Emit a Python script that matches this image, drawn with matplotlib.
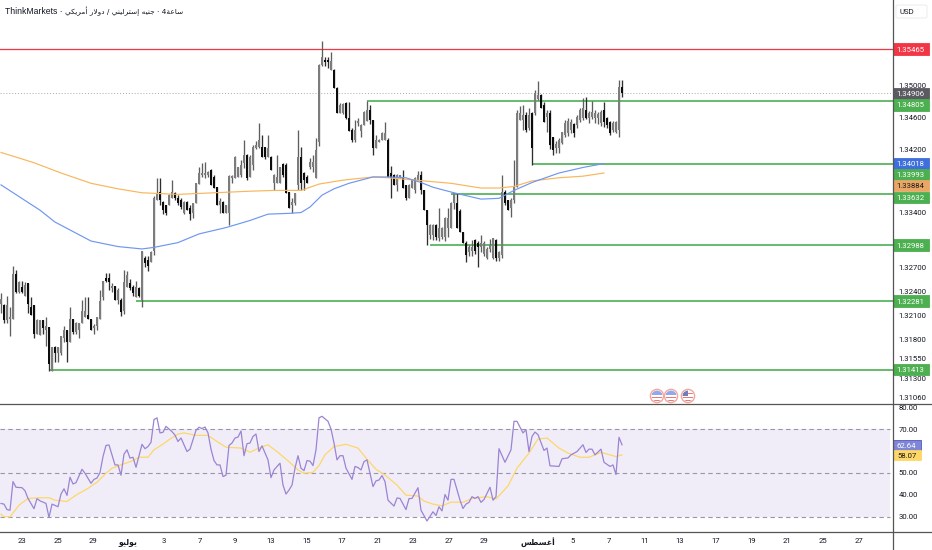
import matplotlib
matplotlib.use("Agg")
import matplotlib.pyplot as plt
import numpy as np
from matplotlib.lines import Line2D
from matplotlib.patches import Rectangle, Circle, FancyBboxPatch

# 4h candles
opens = [
    1.3225, 1.3223, 1.3204, 1.3205, 1.3205, 1.3262, 1.3240, 1.3246, 1.3235, 1.3251,
    1.3220, 1.3223, 1.3187, 1.3185, 1.3204, 1.3191, 1.3195, 1.3140, 1.3170, 1.3162,
    1.3162, 1.3181, 1.3191, 1.3176, 1.3206, 1.3189, 1.3191, 1.3200, 1.3208, 1.3210,
    1.3205, 1.3194, 1.3197, 1.3205, 1.3233, 1.3257, 1.3257, 1.3244, 1.3247, 1.3229,
    1.3230, 1.3216, 1.3246, 1.3251, 1.3246, 1.3233, 1.3244, 1.3229, 1.3282, 1.3280,
    1.3277, 1.3292, 1.3356, 1.3366, 1.3353, 1.3349, 1.3349, 1.3359, 1.3365, 1.3358,
    1.3356, 1.3340, 1.3353, 1.3346, 1.3339, 1.3352, 1.3376, 1.3387, 1.3387, 1.3387,
    1.3394, 1.3385, 1.3372, 1.3349, 1.3353, 1.3339, 1.3340, 1.3384, 1.3384, 1.3385,
    1.3387, 1.3403, 1.3413, 1.3385, 1.3400, 1.3422, 1.3423, 1.3423, 1.3423, 1.3410,
    1.3410, 1.3377, 1.3377, 1.3378, 1.3401, 1.3400, 1.3366, 1.3349, 1.3352, 1.3375,
    1.3410, 1.3390, 1.3385, 1.3397, 1.3397, 1.3384, 1.3429, 1.3527, 1.3533, 1.3533,
    1.3520, 1.3520, 1.3497, 1.3466, 1.3466, 1.3478, 1.3459, 1.3444, 1.3432, 1.3453,
    1.3443, 1.3451, 1.3456, 1.3470, 1.3457, 1.3422, 1.3429, 1.3432, 1.3432, 1.3432,
    1.3390, 1.3387, 1.3375, 1.3384, 1.3385, 1.3375, 1.3359, 1.3371, 1.3368, 1.3381,
    1.3387, 1.3368, 1.3343, 1.3311, 1.3311, 1.3324, 1.3308, 1.3309, 1.3309, 1.3321,
    1.3321, 1.3352, 1.3352, 1.3342, 1.3315, 1.3302, 1.3290, 1.3292, 1.3305, 1.3301,
    1.3296, 1.3288, 1.3283, 1.3294, 1.3283, 1.3305, 1.3283, 1.3286, 1.3366, 1.3356,
    1.3346, 1.3356, 1.3372, 1.3457, 1.3457, 1.3463, 1.3447, 1.3466, 1.3466, 1.3484,
    1.3489, 1.3476, 1.3461, 1.3466, 1.3435, 1.3422, 1.3422, 1.3428, 1.3438, 1.3440,
    1.3444, 1.3452, 1.3451, 1.3457, 1.3459, 1.3470, 1.3459, 1.3461, 1.3459, 1.3459,
    1.3453, 1.3470, 1.3459, 1.3454, 1.3444, 1.3442, 1.3444, 1.3499,
]
closes = [
    1.3231, 1.3204, 1.3223, 1.3208, 1.3262, 1.3239, 1.3252, 1.3240, 1.3249, 1.3225,
    1.3210, 1.3186, 1.3204, 1.3204, 1.3194, 1.3197, 1.3149, 1.3170, 1.3163, 1.3170,
    1.3184, 1.3191, 1.3176, 1.3206, 1.3189, 1.3200, 1.3201, 1.3216, 1.3216, 1.3205,
    1.3192, 1.3197, 1.3208, 1.3228, 1.3253, 1.3253, 1.3252, 1.3247, 1.3229, 1.3242,
    1.3214, 1.3252, 1.3261, 1.3244, 1.3238, 1.3246, 1.3235, 1.3292, 1.3276, 1.3273,
    1.3290, 1.3358, 1.3365, 1.3356, 1.3343, 1.3340, 1.3362, 1.3366, 1.3358, 1.3352,
    1.3347, 1.3353, 1.3343, 1.3338, 1.3352, 1.3377, 1.3390, 1.3390, 1.3390, 1.3391,
    1.3375, 1.3371, 1.3349, 1.3354, 1.3339, 1.3349, 1.3386, 1.3386, 1.3410, 1.3397,
    1.3400, 1.3413, 1.3384, 1.3410, 1.3423, 1.3425, 1.3432, 1.3410, 1.3410, 1.3422,
    1.3394, 1.3387, 1.3385, 1.3397, 1.3387, 1.3365, 1.3346, 1.3353, 1.3365, 1.3410,
    1.3377, 1.3381, 1.3378, 1.3404, 1.3404, 1.3419, 1.3527, 1.3537, 1.3530, 1.3530,
    1.3532, 1.3497, 1.3466, 1.3476, 1.3477, 1.3459, 1.3443, 1.3432, 1.3444, 1.3456,
    1.3451, 1.3467, 1.3470, 1.3457, 1.3422, 1.3432, 1.3432, 1.3440, 1.3440, 1.3385,
    1.3384, 1.3375, 1.3387, 1.3387, 1.3371, 1.3359, 1.3375, 1.3381, 1.3384, 1.3387,
    1.3368, 1.3343, 1.3324, 1.3324, 1.3324, 1.3309, 1.3321, 1.3321, 1.3333, 1.3333,
    1.3352, 1.3365, 1.3321, 1.3315, 1.3301, 1.3286, 1.3296, 1.3296, 1.3292, 1.3296,
    1.3301, 1.3302, 1.3294, 1.3299, 1.3308, 1.3283, 1.3290, 1.3366, 1.3352, 1.3343,
    1.3356, 1.3372, 1.3466, 1.3466, 1.3463, 1.3444, 1.3463, 1.3422, 1.3491, 1.3489,
    1.3472, 1.3454, 1.3466, 1.3425, 1.3419, 1.3427, 1.3432, 1.3442, 1.3453, 1.3456,
    1.3454, 1.3440, 1.3461, 1.3470, 1.3472, 1.3459, 1.3466, 1.3467, 1.3466, 1.3464,
    1.3467, 1.3454, 1.3451, 1.3440, 1.3453, 1.3454, 1.3499, 1.3491,
]
highs = [
    1.3238, 1.3225, 1.3235, 1.3220, 1.3273, 1.3268, 1.3254, 1.3254, 1.3252, 1.3251,
    1.3233, 1.3223, 1.3205, 1.3204, 1.3204, 1.3208, 1.3195, 1.3170, 1.3171, 1.3170,
    1.3184, 1.3197, 1.3191, 1.3220, 1.3206, 1.3202, 1.3201, 1.3229, 1.3233, 1.3233,
    1.3205, 1.3199, 1.3208, 1.3242, 1.3253, 1.3263, 1.3263, 1.3251, 1.3247, 1.3244,
    1.3232, 1.3267, 1.3266, 1.3256, 1.3248, 1.3254, 1.3246, 1.3292, 1.3285, 1.3285,
    1.3291, 1.3361, 1.3384, 1.3384, 1.3354, 1.3349, 1.3364, 1.3381, 1.3366, 1.3362,
    1.3358, 1.3354, 1.3354, 1.3349, 1.3352, 1.3377, 1.3397, 1.3403, 1.3404, 1.3392,
    1.3395, 1.3387, 1.3372, 1.3358, 1.3354, 1.3349, 1.3387, 1.3387, 1.3411, 1.3398,
    1.3406, 1.3432, 1.3414, 1.3413, 1.3425, 1.3430, 1.3453, 1.3438, 1.3423, 1.3438,
    1.3411, 1.3389, 1.3413, 1.3398, 1.3403, 1.3403, 1.3366, 1.3358, 1.3365, 1.3444,
    1.3423, 1.3391, 1.3387, 1.3409, 1.3413, 1.3434, 1.3528, 1.3557, 1.3537, 1.3537,
    1.3543, 1.3522, 1.3499, 1.3479, 1.3478, 1.3480, 1.3480, 1.3447, 1.3457, 1.3459,
    1.3452, 1.3468, 1.3481, 1.3476, 1.3457, 1.3438, 1.3433, 1.3442, 1.3454, 1.3434,
    1.3399, 1.3389, 1.3389, 1.3387, 1.3394, 1.3375, 1.3376, 1.3383, 1.3385, 1.3392,
    1.3392, 1.3368, 1.3343, 1.3325, 1.3326, 1.3326, 1.3346, 1.3322, 1.3334, 1.3346,
    1.3353, 1.3365, 1.3365, 1.3344, 1.3316, 1.3304, 1.3299, 1.3305, 1.3306, 1.3304,
    1.3311, 1.3304, 1.3296, 1.3306, 1.3308, 1.3307, 1.3292, 1.3387, 1.3368, 1.3356,
    1.3358, 1.3406, 1.3470, 1.3475, 1.3476, 1.3467, 1.3472, 1.3467, 1.3495, 1.3506,
    1.3490, 1.3480, 1.3470, 1.3470, 1.3436, 1.3430, 1.3434, 1.3442, 1.3457, 1.3459,
    1.3458, 1.3453, 1.3463, 1.3472, 1.3485, 1.3486, 1.3468, 1.3481, 1.3470, 1.3467,
    1.3470, 1.3480, 1.3461, 1.3456, 1.3456, 1.3456, 1.3508, 1.3508,
]
lows = [
    1.3213, 1.3201, 1.3201, 1.3184, 1.3205, 1.3238, 1.3238, 1.3238, 1.3235, 1.3213,
    1.3210, 1.3182, 1.3186, 1.3185, 1.3187, 1.3171, 1.3140, 1.3140, 1.3151, 1.3151,
    1.3160, 1.3176, 1.3151, 1.3176, 1.3187, 1.3186, 1.3181, 1.3200, 1.3208, 1.3205,
    1.3192, 1.3187, 1.3191, 1.3205, 1.3230, 1.3252, 1.3242, 1.3240, 1.3229, 1.3225,
    1.3209, 1.3212, 1.3246, 1.3242, 1.3235, 1.3233, 1.3233, 1.3220, 1.3271, 1.3266,
    1.3277, 1.3286, 1.3356, 1.3349, 1.3338, 1.3337, 1.3349, 1.3359, 1.3356, 1.3350,
    1.3344, 1.3338, 1.3343, 1.3330, 1.3333, 1.3352, 1.3376, 1.3385, 1.3384, 1.3385,
    1.3375, 1.3371, 1.3349, 1.3340, 1.3339, 1.3339, 1.3324, 1.3378, 1.3384, 1.3385,
    1.3385, 1.3396, 1.3381, 1.3385, 1.3394, 1.3420, 1.3422, 1.3410, 1.3408, 1.3410,
    1.3394, 1.3368, 1.3377, 1.3378, 1.3385, 1.3365, 1.3346, 1.3339, 1.3350, 1.3368,
    1.3368, 1.3368, 1.3377, 1.3395, 1.3391, 1.3384, 1.3424, 1.3525, 1.3525, 1.3523,
    1.3520, 1.3497, 1.3466, 1.3466, 1.3464, 1.3458, 1.3443, 1.3429, 1.3429, 1.3450,
    1.3436, 1.3451, 1.3456, 1.3452, 1.3413, 1.3422, 1.3429, 1.3432, 1.3432, 1.3385,
    1.3359, 1.3375, 1.3367, 1.3384, 1.3371, 1.3356, 1.3359, 1.3371, 1.3365, 1.3381,
    1.3363, 1.3343, 1.3299, 1.3307, 1.3305, 1.3305, 1.3304, 1.3306, 1.3304, 1.3309,
    1.3321, 1.3345, 1.3321, 1.3315, 1.3301, 1.3277, 1.3285, 1.3285, 1.3288, 1.3271,
    1.3290, 1.3285, 1.3281, 1.3290, 1.3281, 1.3279, 1.3279, 1.3282, 1.3350, 1.3343,
    1.3334, 1.3352, 1.3372, 1.3457, 1.3444, 1.3442, 1.3444, 1.3400, 1.3463, 1.3482,
    1.3472, 1.3454, 1.3442, 1.3420, 1.3413, 1.3415, 1.3415, 1.3427, 1.3435, 1.3437,
    1.3440, 1.3435, 1.3447, 1.3455, 1.3457, 1.3458, 1.3453, 1.3458, 1.3453, 1.3452,
    1.3449, 1.3448, 1.3447, 1.3438, 1.3442, 1.3441, 1.3436, 1.3486,
]

# moving averages on price
ma_fast_bar = [0, 13, 18, 30, 39, 47, 51, 59, 66, 75, 83, 89, 96, 100, 103, 107, 111, 116, 124, 129,
               135, 140, 144, 151, 160, 166, 171, 177, 186, 194, 201]
ma_fast = [1.3375, 1.3343, 1.3328, 1.3304, 1.3297, 1.3294, 1.3296, 1.3302, 1.3313, 1.3321,
           1.3330, 1.3338, 1.3339, 1.3340, 1.3347, 1.3362, 1.3370, 1.3377, 1.3385, 1.3385,
           1.3384, 1.3378, 1.3372, 1.3365, 1.3357, 1.3358, 1.3368, 1.3378, 1.3390, 1.3397, 1.3402]
ma_slow_bar = [0, 11, 20, 30, 39, 47, 59, 71, 83, 91, 100, 106, 114, 124, 129, 141, 150, 160, 166,
               171, 177, 186, 194, 201]
ma_slow = [1.3416, 1.3403, 1.3390, 1.3377, 1.3370, 1.3365, 1.3363, 1.3365, 1.3367, 1.3368, 1.3368,
           1.3376, 1.3381, 1.3385, 1.3384, 1.3380, 1.3377, 1.3371, 1.3371, 1.3373, 1.3380, 1.3384,
           1.3386, 1.3390]

# horizontal levels: price and the bar they start from
level_prices = [1.34805, 1.34018, 1.33632, 1.32988, 1.32281, 1.31413]
level_start = [122, 177, 150, 143, 45, 16]
resistance = 1.35465
last_price = 1.34906

# rsi panel
rsi_bar = [0, 1, 2, 3, 4, 5, 7, 8, 9, 11, 12, 13, 15, 16, 17, 19, 20, 21, 22, 23, 24, 25, 27, 28, 30, 31, 32, 33,
           34, 35, 36, 38, 39, 40, 41, 42, 43, 44, 45, 47, 48, 49, 50, 51, 52, 53, 54, 55, 57, 58, 59, 60, 62, 63,
           65, 66, 67, 68, 69, 70, 71, 72, 73, 74, 75, 76, 77, 78, 79, 80, 81, 82, 83, 84, 85, 86, 87, 89, 90, 91,
           93, 94, 95, 96, 97, 98, 99, 100, 101, 102, 103, 104, 105, 106, 107, 109, 110, 111, 112, 113, 114, 115,
           117, 118, 119, 120, 121, 122, 124, 125, 126, 127, 128, 129, 131, 132, 133, 135, 136, 137, 139, 140,
           142, 144, 145, 146, 147, 148, 149, 150, 151, 153, 154, 155, 156, 157, 158, 159, 160, 161, 163, 164,
           165, 166, 168, 170, 171, 172, 174, 175, 176, 177, 178, 179, 181, 182, 183, 186, 187, 189, 190, 192,
           194, 195, 196, 197, 198, 200, 201, 203, 204, 205, 206, 207]
rsi_val = [36.0, 35.7, 33.2, 32.9, 46.0, 43.4, 43.2, 41.8, 38.3, 33.6, 38.2, 37.2, 36.0, 29.6, 35.7, 34.5, 40.3,
           42.7, 39.7, 48.0, 44.9, 45.5, 51.6, 49.8, 45.2, 47.0, 47.6, 50.1, 57.4, 62.5, 62.7, 53.6, 53.6, 48.9,
           58.5, 60.5, 56.7, 57.1, 52.5, 63.0, 61.0, 62.0, 63.9, 74.3, 75.1, 68.2, 68.5, 71.2, 68.8, 67.2, 64.3,
           65.9, 59.7, 60.8, 69.4, 70.8, 70.2, 70.9, 68.2, 60.8, 55.6, 53.6, 53.6, 48.3, 48.9, 62.5, 63.6, 65.9,
           66.3, 69.1, 57.8, 63.3, 63.6, 66.6, 67.7, 59.7, 62.3, 55.9, 47.8, 51.3, 54.4, 44.4, 40.3, 42.1, 44.4,
           52.1, 57.8, 52.1, 51.0, 55.6, 55.3, 53.3, 60.5, 75.1, 75.8, 73.5, 70.0, 63.6, 55.9, 57.8, 57.8, 52.1,
           47.0, 52.9, 52.4, 51.3, 55.1, 55.9, 43.7, 46.3, 46.7, 48.7, 46.0, 37.5, 34.8, 38.5, 38.3, 33.2, 38.2,
           38.3, 43.2, 32.9, 28.0, 32.2, 30.5, 34.5, 32.6, 40.1, 37.5, 47.0, 47.0, 37.5, 33.7, 35.7, 36.5, 39.1,
           38.3, 39.1, 36.5, 37.8, 43.4, 37.5, 39.1, 61.0, 54.8, 60.5, 73.5, 73.5, 68.2, 69.7, 59.7, 66.6, 68.6,
           67.4, 60.2, 61.3, 53.2, 52.9, 56.4, 56.8, 58.2, 59.7, 62.8, 59.3, 60.8, 60.8, 58.2, 60.8, 54.8, 52.9,
           53.6, 49.2, 66.2, 62.8]
rsi_ma_bar = [0, 1, 3, 6, 9, 13, 16, 18, 22, 25, 29, 32, 35, 37, 40, 44, 46, 49, 51, 54, 56, 59, 61, 65, 69, 72, 75,
              80, 83, 86, 89, 92, 96, 99, 101, 104, 106, 108, 111, 115, 119, 122, 125, 128, 132, 135, 139, 141, 144,
              147, 150, 154, 157, 162, 165, 169, 172, 176, 179, 182, 186, 189, 193, 196, 200, 203, 205, 207]
rsi_ma = [31.1, 29.9, 29.9, 35.2, 38.3, 38.6, 38.6, 37.5, 36.9, 39.8, 42.9, 45.7, 49.8, 52.1, 53.6, 55.6, 57.1, 57.1,
          60.5, 63.1, 65.1, 67.7, 68.2, 67.1, 67.1, 64.3, 61.7, 61.3, 59.4, 61.3, 62.8, 59.7, 55.1, 51.3, 49.8, 50.2,
          53.3, 58.2, 62.0, 63.0, 61.3, 56.2, 51.6, 49.0, 44.4, 39.8, 39.4, 37.1, 35.7, 34.9, 36.6, 36.5, 38.3, 39.1,
          38.0, 44.0, 52.1, 59.0, 65.4, 65.9, 61.3, 59.0, 57.1, 57.1, 59.3, 58.2, 57.4, 58.2]
rsi_ticks = [30, 40, 50, 70, 80]

price_ticks = [1.355, 1.350, 1.346, 1.342, 1.334, 1.327, 1.324, 1.321, 1.318, 1.3155, 1.313, 1.3106]

# labels are already in visual order with Arabic presentation forms, matplotlib does not shape Arabic
july = "\ufeee\ufef4\ufedf\ufeee\ufef3"
august = "\ufeb2\ufec4\ufeb4\ufecf\ufe83"
gbp_name = "\ufef2\ufee8\ufef4\ufedf\ufeae\ufe98\ufeb3\ufe87 \ufeea\ufef4\ufee8\ufe9f"
usd_name = "\ufef2\ufedc\ufef3\ufeae\ufee3\ufe83 \ufead\ufefb\ufeed\ufea9"
hour_name = "\ufe94\ufecb\ufe8e\ufeb3"
x_labels = ["23", "25", "29", july, "3", "7", "9", "13", "15", "17", "21", "23", "27", "29", august,
            "5", "7", "11", "13", "17", "19", "21", "25", "27"]
x_label_px = [21.5, 57.5, 93, 128, 164, 200, 235, 271, 307, 342, 378, 413, 449, 484, 538,
              573, 609, 645, 680, 716, 752, 787, 823, 859]

W, H = 932, 550
AXIS_X, SPLIT_Y, BOTTOM_Y = 892.7, 404.3, 532.0
FONT = ["Roboto", "DejaVu Sans"]
TEXT = "#131722"
TICK_SIZE = 5.6


def bar_x(px):
    return (px - 1) / 3.0


fig = plt.figure(figsize=(W / 100, H / 100), dpi=100, facecolor="white")
ax = fig.add_axes([0, 1 - SPLIT_Y / H, AXIS_X / W, SPLIT_Y / H])
ax_rsi = fig.add_axes([0, 1 - BOTTOM_Y / H, AXIS_X / W, (BOTTOM_Y - SPLIT_Y) / H])

# price panel
opens_a, closes_a = np.array(opens), np.array(closes)
bars = np.arange(len(opens))
up = closes_a >= opens_a
ax.vlines(bars[up], np.array(lows)[up], np.array(highs)[up], color="#5e5e5e", lw=0.95, zorder=3)
ax.vlines(bars[~up], np.array(lows)[~up], np.array(highs)[~up], color="#2e2e2e", lw=0.95, zorder=3)
ax.bar(bars[up], (closes_a - opens_a)[up], bottom=opens_a[up], width=0.78, color="#7c7c7c", lw=0, zorder=3.1)
ax.bar(bars[~up], (closes_a - opens_a)[~up], bottom=opens_a[~up], width=0.78, color="#0c0c0c", lw=0, zorder=3.1)

ax.plot(ma_slow_bar, ma_slow, color="#f9b65c", lw=0.85, zorder=4)
ax.plot(ma_fast_bar, ma_fast, color="#6f96f2", lw=0.85, zorder=4)

ax.axhline(resistance, color="#f23645", lw=0.9, zorder=2)
ax.axhline(last_price, color="#a9a9a9", lw=0.7, ls=(0, (1, 2)), zorder=2)
for price, start in zip(level_prices, level_start):
    ax.hlines(price, start, bar_x(AXIS_X), color="#4caf50", lw=1.2, zorder=2)

ax.set_xlim(bar_x(0), bar_x(AXIS_X))
ax.set_ylim(1.35 - (SPLIT_Y - 86) / 7910, 1.35 + 86 / 7910)
ax.set_xticks([])
ax.yaxis.tick_right()
ax.set_yticks(price_ticks)
ax.set_yticklabels([f"{p:.5f}" for p in price_ticks], family=FONT, fontsize=TICK_SIZE, color=TEXT)
ax.tick_params(axis="y", length=0, pad=4.3)
for side in ax.spines:
    ax.spines[side].set_visible(False)


def price_tag(axis, value, text, color, txt_color="white", width=36, height=11.5, scale=7910, edge=None):
    tr = axis.get_yaxis_transform()
    w = width / AXIS_X
    h = height / scale
    axis.add_patch(Rectangle((1.0, value - h / 2), w, h, transform=tr, facecolor=color,
                             edgecolor=edge or color, lw=0.6, clip_on=False, zorder=6))
    axis.text(1.0 + (w / 2), value, text, transform=tr, ha="center", va="center_baseline", family=FONT,
              fontsize=TICK_SIZE, color=txt_color, clip_on=False, zorder=7)


# tags sit where the picture has them, pushed apart so they do not overlap
price_tag(ax, 1.35465, "1.35465", "#f23645")
price_tag(ax, 1.34906, "1.34906", "#5a5a62")
price_tag(ax, 1.34760, "1.34805", "#4caf50")
price_tag(ax, 1.34018, "1.34018", "#3f6fdc")
price_tag(ax, 1.33880, "1.33993", "#4caf50")
price_tag(ax, 1.33740, "1.33884", "#e8a765", txt_color="#1a1a1a")
price_tag(ax, 1.33590, "1.33632", "#4caf50")
price_tag(ax, 1.32988, "1.32988", "#4caf50")
price_tag(ax, 1.32281, "1.32281", "#4caf50")
price_tag(ax, 1.31413, "1.31413", "#4caf50")

# rsi panel
ax_rsi.axhspan(30, 70, xmin=0, xmax=890 / AXIS_X, color="#7e57c2", alpha=0.10, lw=0, zorder=1)
for level in [70, 50, 30]:
    ax_rsi.hlines(level, bar_x(0), bar_x(890), color="#9a95a8", lw=0.8, ls=(0, (4, 3)), zorder=2)
ax_rsi.plot(rsi_ma_bar, rsi_ma, color="#fdd768", lw=0.9, zorder=3)
ax_rsi.plot(rsi_bar, rsi_val, color="#9a84d3", lw=0.9, zorder=4)

ax_rsi.set_xlim(bar_x(0), bar_x(AXIS_X))
rsi_scale = 2.19
ax_rsi.set_ylim(30 - (BOTTOM_Y - 516.6) / rsi_scale, 70 + (429 - SPLIT_Y) / rsi_scale)
ax_rsi.yaxis.tick_right()
ax_rsi.set_yticks(rsi_ticks)
ax_rsi.set_yticklabels([f"{v:.2f}" for v in rsi_ticks], family=FONT, fontsize=TICK_SIZE, color=TEXT)
ax_rsi.set_xticks([bar_x(p) for p in x_label_px])
ax_rsi.set_xticklabels(x_labels, family=FONT, fontsize=TICK_SIZE, color=TEXT)
for lab in ax_rsi.get_xticklabels():
    if lab.get_text() in (july, august):
        lab.set_fontweight("bold")
ax_rsi.tick_params(axis="x", length=0, pad=4)
ax_rsi.tick_params(axis="y", length=0, pad=4.3)
for side in ax_rsi.spines:
    ax_rsi.spines[side].set_visible(False)

price_tag(ax_rsi, 62.64, "62.64", "#7f86d6", width=28, height=10.5, scale=rsi_scale, edge="#4f58c8")
price_tag(ax_rsi, 58.07, "58.07", "#fdd768", txt_color="#1a1a1a", width=28, height=10.5, scale=rsi_scale)

# overlay in image pixels for frame, header, currency box and event flags
ov = fig.add_axes([0, 0, 1, 1], facecolor="none")
ov.set_xlim(0, W)
ov.set_ylim(H, 0)
ov.axis("off")
ov.add_line(Line2D([AXIS_X, AXIS_X], [0, H], color="#555555", lw=0.9))
ov.add_line(Line2D([0, W], [SPLIT_Y, SPLIT_Y], color="#555555", lw=0.9))
ov.add_line(Line2D([0, W], [BOTTOM_Y, BOTTOM_Y], color="#555555", lw=0.9))

ov.add_patch(FancyBboxPatch((896, 5), 31, 13, boxstyle="round,pad=0,rounding_size=2",
                            facecolor="white", edgecolor="#ececec", lw=0.7))
ov.text(907, 11.5, "USD", ha="center", va="center", family=FONT, fontsize=5.6, color=TEXT)

ov.text(5, 11.5, "ThinkMarkets \u00b7 ", ha="left", va="center", family=["Liberation Sans", "DejaVu Sans"],
        fontsize=6.2, color=TEXT)
ov.text(65, 11.5, usd_name + " / " + gbp_name + " \u00b7 4" + hour_name, ha="left", va="center",
        family=["DejaVu Sans"], fontsize=5.3, color=TEXT)

for cx, canton in zip([657, 671, 688], ["#8fa8ee", "#8fa8ee", "#6d7fb8"]):
    ov.add_patch(Circle((cx, 396), 6.6, facecolor="white", edgecolor="#f2a6a0", lw=1.0))
    clip = Circle((cx, 396), 5.4, transform=ov.transData)
    for yy in [393, 397, 400]:
        s = ov.add_patch(Rectangle((cx - 6, yy), 12, 1.3, facecolor="#e77a74", lw=0))
        s.set_clip_path(clip)
    s = ov.add_patch(Rectangle((cx - 6, 390), 6 if canton == "#6d7fb8" else 12, 6 if canton == "#6d7fb8" else 5,
                               facecolor=canton, lw=0))
    s.set_clip_path(clip)

fig.savefig("out.png", dpi=100)
